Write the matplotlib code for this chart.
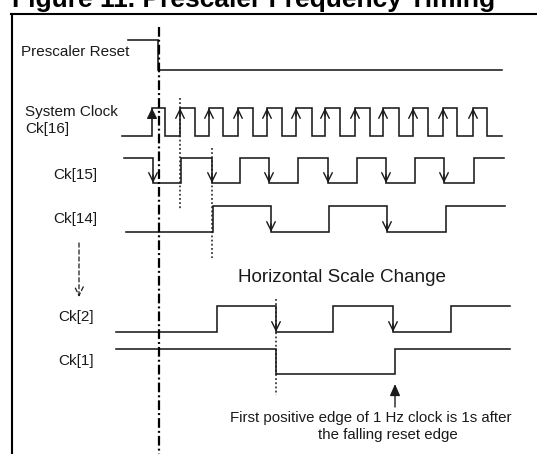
import matplotlib
matplotlib.use("Agg")
import matplotlib.pyplot as plt

plt.rcParams['font.family'] = ['Liberation Sans', 'DejaVu Sans']
plt.rcParams['lines.scale_dashes'] = False

# edge positions (pixel-like time units)
reset_span = (128, 502)
reset_fall = [158]

ck16_span = (122, 502)
ck16_rise = [152, 180, 209, 238, 267, 296, 325, 355, 383, 413, 443, 473]
ck16_fall = [165, 195, 223, 253, 282, 312, 340, 370, 399, 428, 457, 487]

ck15_span = (124, 504)
ck15_fall = [153, 212, 269, 328, 386, 444]
ck15_rise = [181, 240, 298, 357, 415, 474]

ck14_span = (126, 505)
ck14_rise = [213, 329, 446]
ck14_fall = [271, 387]

ck2_span = (116, 510)
ck2_rise = [217, 333, 451]
ck2_fall = [276, 393]

ck1_span = (116, 510)
ck1_fall = [276]
ck1_rise = [395]

# (high, low) levels of each trace
lv_reset = (40, 70)
lv_ck16 = (108, 136)
lv_ck15 = (158, 183)
lv_ck14 = (206, 232)
lv_ck2 = (306, 332)
lv_ck1 = (349, 374)

labels = [("Prescaler Reset", 21, 52), ("System Clock", 25, 112), ("Ck[16]", 25, 129),
          ("Ck[15]", 53, 175), ("Ck[14]", 53, 219), ("Ck[2]", 58, 317), ("Ck[1]", 58, 361)]

INK = "#1a1a1a"


def wave(ax, span, rises, falls, levels, start_high):
    hi, lo = levels
    edges = sorted([(x, 'r') for x in rises] + [(x, 'f') for x in falls])
    cur = hi if start_high else lo
    xs, ys = [span[0]], [cur]
    for x, kind in edges:
        nxt = hi if kind == 'r' else lo
        xs += [x, x]
        ys += [cur, nxt]
        cur = nxt
    xs.append(span[1])
    ys.append(cur)
    ax.plot(xs, ys, color=INK, lw=1.15, solid_joinstyle='miter')


def heads(ax, xs, tip, direction, filled=False):
    style = '-|>' if filled else '->'
    for x in xs:
        ax.annotate('', xy=(x, tip), xytext=(x, tip - 8 * direction),
                    arrowprops=dict(arrowstyle=style + ',head_length=0.45,head_width=0.22',
                                    color=INK, lw=1.0, mutation_scale=14,
                                    shrinkA=0, shrinkB=0))


fig = plt.figure(figsize=(5.37, 4.54), dpi=100)
ax = fig.add_axes([0, 0, 1, 1])
ax.set_xlim(0, 537)
ax.set_ylim(454, 0)
ax.axis('off')

# title and frame (title is clipped at the top, as in the source)
ax.text(12, 7.5, "Figure 11. Prescaler Frequency Timing", fontsize=19, fontweight='bold',
        ha='left', va='baseline', color='black')
ax.plot([11, 537], [13.5, 13.5], color='black', lw=1.5)
ax.plot([12, 12], [13.5, 454], color='black', lw=1.5)

# traces
wave(ax, reset_span, [], reset_fall, lv_reset, True)
wave(ax, ck16_span, ck16_rise, ck16_fall, lv_ck16, False)
wave(ax, ck15_span, ck15_rise, ck15_fall, lv_ck15, True)
wave(ax, ck14_span, ck14_rise, ck14_fall, lv_ck14, False)
wave(ax, ck2_span, ck2_rise, ck2_fall, lv_ck2, False)
wave(ax, ck1_span, ck1_rise, ck1_fall, lv_ck1, True)

# edge arrowheads
heads(ax, ck16_rise[:1], lv_ck16[0], -1, filled=True)
heads(ax, ck16_rise[1:], lv_ck16[0], -1)
heads(ax, ck15_fall, lv_ck15[1], 1)
heads(ax, ck14_fall, lv_ck14[1], 1)
heads(ax, ck2_fall, lv_ck2[1], 1)

# reset reference line
ax.plot([159, 159], [27, 454], color='black', lw=1.6, dashes=(7, 2.2, 1.4, 2.2))

# dotted guides
dots = (0, (1.3, 1.7))
ax.plot([180, 180], [98, 210], color=INK, lw=1.1, ls=dots)
ax.plot([212, 212], [148, 258], color=INK, lw=1.1, ls=dots)
ax.plot([276, 276], [299, 395], color=INK, lw=1.1, ls=dots)

# dashed "continues" arrow
ax.annotate('', xy=(79, 297), xytext=(79, 243),
            arrowprops=dict(arrowstyle='->,head_length=0.45,head_width=0.22', color=INK,
                            lw=0.9, ls=(0, (3, 2)), mutation_scale=14, shrinkA=0, shrinkB=0))

for txt, x, y in labels:
    ax.text(x, y, txt, fontsize=11, ha='left', va='center', color=INK)

ax.text(342, 277, "Horizontal Scale Change", fontsize=13.6, ha='center', va='center', color=INK)

# 1 Hz edge note
ax.annotate('', xy=(395, 384), xytext=(395, 407),
            arrowprops=dict(arrowstyle='-|>,head_length=0.5,head_width=0.22', color=INK,
                            lw=1.0, mutation_scale=14, shrinkA=0, shrinkB=0))
ax.text(371, 418, "First positive edge of 1 Hz clock is 1s after", fontsize=10.8,
        ha='center', va='center', color=INK)
ax.text(388, 435, "the falling reset edge", fontsize=10.8, ha='center', va='center', color=INK)

fig.savefig("out.png", dpi=100)
